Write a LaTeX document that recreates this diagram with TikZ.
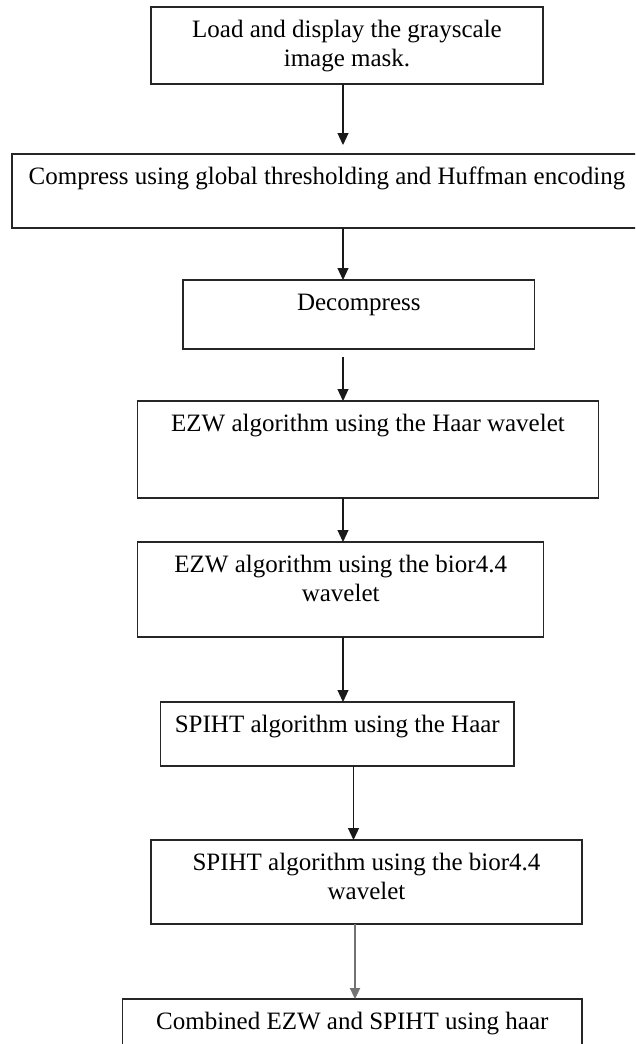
\documentclass[tikz,border=0pt]{standalone}
\usepackage{fontspec}
\setmainfont{Liberation Serif}
\usetikzlibrary{arrows.meta,calc}
\newcommand{\bxt}[3]{\parbox[c][#2][t]{#1}{\centering\rule{0pt}{30pt}#3\par}}
\tikzset{
  stepbox/.style={draw=black!85, line width=1.3pt, inner sep=0pt, outer sep=0pt,
    font=\fontsize{25}{29.5}\selectfont},
  arr/.style={draw=black!90, line width=1.2pt, -{Triangle[length=12pt,width=11pt]}},
  grayarr/.style={draw=black!55, line width=2.2pt, -{Triangle[length=11pt,width=10pt]}}
}
\begin{document}
\begin{tikzpicture}[x=1pt,y=-1pt]
\useasboundingbox (0,0) rectangle (635,1044);
\clip (0,0) rectangle (635,1044);
\fill[white] (0,0) rectangle (635,1044);
\coordinate (ax) at (343,0);
\coordinate (bx) at (353.5,0);
\coordinate (cx) at (355,0);

\node[stepbox] (load) at (347,45.5) {\bxt{392pt}{77pt}{Load and display the grayscale\\image mask.}};
\node[stepbox] (compress) at (327,191) {\bxt{630pt}{74pt}{Compress using global thresholding and Huffman encoding}};
\node[stepbox] (decompress) at (358.8,314.5) {\bxt{351.5pt}{69pt}{Decompress}};
\node[stepbox] (ezwhaar) at (368,449.5) {\bxt{460.7pt}{97pt}{EZW algorithm using the Haar wavelet}};
\node[stepbox] (ezwbior) at (340.7,589.5) {\bxt{406pt}{95pt}{EZW algorithm using the bior4.4\\wavelet}};
\node[stepbox] (spihthaar) at (337.3,734) {\bxt{353.3pt}{64pt}{SPIHT algorithm using the Haar}};
\node[stepbox] (spihtbior) at (366.5,882) {\bxt{431pt}{84pt}{SPIHT algorithm using the bior4.4\\wavelet}};
\node[stepbox] (combined) at (352.3,1041) {\bxt{459.3pt}{84pt}{Combined EZW and SPIHT using haar}};

\draw[arr, shorten >=9pt] (load.south -| ax) -- (compress.north -| ax);
\draw[arr] (compress.south -| ax) -- (decompress.north -| ax);
\draw[arr, shorten <=8pt] (decompress.south -| ax) -- (ezwhaar.north -| ax);
\draw[arr] (ezwhaar.south -| ax) -- (ezwbior.north -| ax);
\draw[arr] (ezwbior.south -| ax) -- (spihthaar.north -| ax);
\draw[arr] (spihthaar.south -| bx) -- (spihtbior.north -| bx);
\draw[grayarr] (spihtbior.south -| cx) -- (combined.north -| cx);
\end{tikzpicture}
\end{document}
